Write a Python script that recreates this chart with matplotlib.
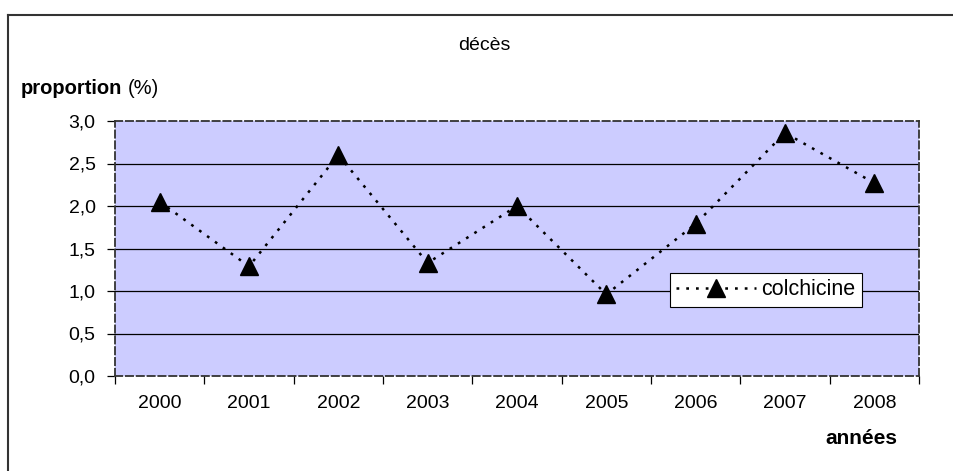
import matplotlib
matplotlib.use("Agg")
import matplotlib.pyplot as plt
from matplotlib.lines import Line2D

plt.rcParams['font.family'] = ['Liberation Sans', 'DejaVu Sans']

years = ["2000", "2001", "2002", "2003", "2004", "2005", "2006", "2007", "2008"]
colchicine = [2.05, 1.29, 2.60, 1.33, 2.00, 0.96, 1.79, 2.86, 2.27]
yticks = [0.0, 0.5, 1.0, 1.5, 2.0, 2.5, 3.0]
ytick_labels = ["0,0", "0,5", "1,0", "1,5", "2,0", "2,5", "3,0"]

W, H = 954, 471
FS = 14
fig = plt.figure(figsize=(W / 100, H / 100), dpi=100)
fig.patch.set_facecolor("white")

# outer chart-area border (left and top visible)
fig.add_artist(Line2D([8.5 / W, 8.5 / W], [0, 1 - 15 / H], transform=fig.transFigure,
                      color="#333333", lw=1.5))
fig.add_artist(Line2D([8.5 / W, 1], [1 - 15 / H, 1 - 15 / H], transform=fig.transFigure,
                      color="#333333", lw=1.5))

left, right, top, bottom = 115, 919, 121, 376
ax = fig.add_axes([left / W, 1 - bottom / H, (right - left) / W, (bottom - top) / H])
ax.set_facecolor("#CCCCFF")

x = list(range(len(years)))
ax.set_xlim(-0.5, len(years) - 0.5)
ax.set_ylim(0, 3.0)

for yv in yticks[1:-1]:
    ax.axhline(yv, color="black", lw=0.9, zorder=1)

ax.plot(x, colchicine, linestyle=(0, (1.1, 2.8)), color="black", lw=1.8,
        marker="^", markersize=12.5, markerfacecolor="black", markeredgecolor="black",
        zorder=3, label="colchicine")

for s in ax.spines.values():
    s.set_linestyle((0, (4, 2)))
    s.set_color("#333333")
    s.set_linewidth(1.3)

ax.set_yticks(yticks)
ax.set_yticklabels(ytick_labels, fontsize=FS)
ax.tick_params(axis="y", length=6, width=0.9, pad=8, direction="out")

ax.set_xticks(x)
ax.set_xticklabels(years, fontsize=FS)
ax.set_xticks([i - 0.5 for i in range(len(years) + 1)], minor=True)
ax.tick_params(axis="x", which="major", length=0, pad=14)
ax.tick_params(axis="x", which="minor", length=6, width=0.9, direction="out")

leg = ax.legend(loc="upper left",
                bbox_to_anchor=((670 - left) / (right - left), 1 - (273 - top) / (bottom - top)),
                fontsize=15.5, frameon=True, fancybox=False, edgecolor="black",
                framealpha=1, handlelength=3.7, borderpad=0.3, handletextpad=0.25,
                borderaxespad=0)
leg.get_frame().set_linewidth(0.8)

fig.text(484 / W, 1 - 46 / H, "décès", ha="center", va="center", fontsize=FS)
t = fig.text(21 / W, 1 - 89 / H, "proportion", ha="left", va="center", fontsize=14.5,
             fontweight="bold")
fig.canvas.draw()
bb = t.get_window_extent()
fig.text((bb.x1 + 5) / W, 1 - 89 / H, "(%)", ha="left", va="center", fontsize=14.5)
fig.text(861 / W, 1 - 438 / H, "années", ha="center", va="center", fontsize=15,
         fontweight="bold")

fig.savefig("out.png", dpi=100)
